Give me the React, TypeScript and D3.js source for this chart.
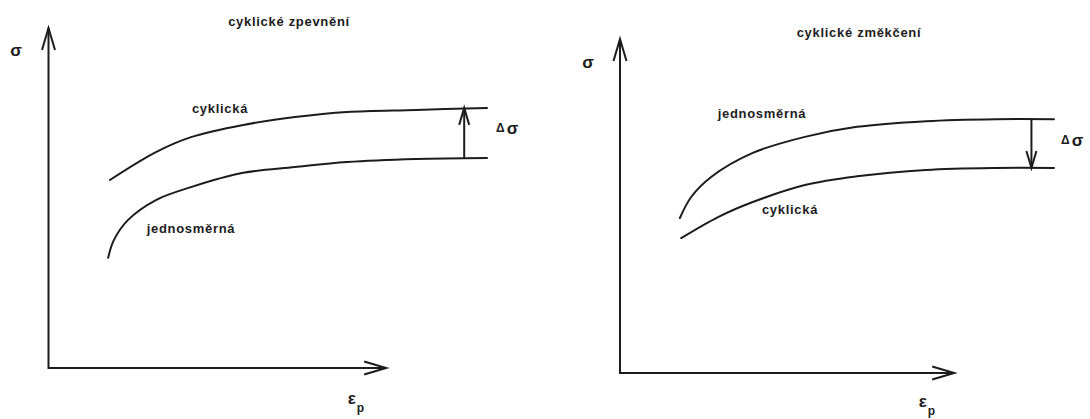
import React from 'react';
import * as d3 from 'd3';

const WIDTH = 1090;
const HEIGHT = 419;

// Relative units: strain ε_p on x (0–100), stress σ on y (0–100)
const hardeningCyclicX = [14.0, 24.5, 32.5, 44.4, 56.2, 68.1, 83.8, 100];
const hardeningCyclicY = [55.3, 63.5, 67.9, 71.5, 73.8, 75.3, 75.9, 76.5];
const hardeningMonoX = [13.6, 14.9, 18.1, 24.5, 32.5, 44.4, 56.2, 68.1, 83.8, 100];
const hardeningMonoY = [32.4, 37.6, 43.5, 49.4, 53.2, 57.4, 59.1, 60.6, 61.5, 61.8];

const softeningMonoX = [13.8, 16.4, 21.0, 30.6, 42.6, 54.6, 70.5, 86.6, 100];
const softeningMonoY = [46.4, 52.7, 58.7, 65.9, 70.7, 73.7, 75.4, 76.0, 76.0];
const softeningCyclicX = [14.1, 22.6, 30.6, 42.6, 54.6, 70.5, 86.6, 100];
const softeningCyclicY = [40.4, 46.7, 51.2, 56.3, 58.9, 60.8, 61.4, 61.4];

const panelTitles = ['cyklické zpevnění', 'cyklické změkčení'];
const curveNames = ['cyklická', 'jednosměrná'];
const AXIS_X_END = 77; // end of the ε_p axis in data units
const DELTA_X = 94.8; // strain where Δσ is marked

const zip = (xs: number[], ys: number[]) => xs.map((x, i) => [x, ys[i]] as [number, number]);

const INK = '#1c1c1c';
const FONT = '"Liberation Sans", Arial, Helvetica, sans-serif';

type Panel = {
  title: string;
  xRange: [number, number];
  yRange: [number, number];
  upper: [number, number][];
  lower: [number, number][];
  upperLabel: string;
  lowerLabel: string;
  arrowUp: boolean;
  titlePos: [number, number];
  sigmaPos: [number, number];
  epsPos: [number, number];
  upperLabelPos: [number, number];
  lowerLabelPos: [number, number];
  deltaPos: [number, number];
};

const panels: Panel[] = [
  {
    title: panelTitles[0],
    xRange: [48.5, 487],
    yRange: [368, 28],
    upper: zip(hardeningCyclicX, hardeningCyclicY),
    lower: zip(hardeningMonoX, hardeningMonoY),
    upperLabel: curveNames[0],
    lowerLabel: curveNames[1],
    arrowUp: true,
    titlePos: [289, 21],
    sigmaPos: [16, 50],
    epsPos: [356, 398],
    upperLabelPos: [220, 108],
    lowerLabelPos: [191, 228],
    deltaPos: [496, 128],
  },
  {
    title: panelTitles[1],
    xRange: [620, 1054],
    yRange: [373, 39],
    upper: zip(softeningMonoX, softeningMonoY),
    lower: zip(softeningCyclicX, softeningCyclicY),
    upperLabel: curveNames[1],
    lowerLabel: curveNames[0],
    arrowUp: false,
    titlePos: [859, 32],
    sigmaPos: [588, 62],
    epsPos: [927, 401],
    upperLabelPos: [762, 113],
    lowerLabelPos: [790, 209],
    deltaPos: [1061, 140],
  },
];

const labelStyle = {
  fontFamily: FONT,
  fontWeight: 700,
  fontSize: 13,
  letterSpacing: 0.7,
  fill: INK,
} as const;

function OpenHead({ x, y, dir, len, half }: { x: number; y: number; dir: 'up' | 'down' | 'right'; len: number; half: number }) {
  let d = '';
  if (dir === 'up') d = `M${x - half},${y + len}L${x},${y}L${x + half},${y + len}`;
  if (dir === 'down') d = `M${x - half},${y - len}L${x},${y}L${x + half},${y - len}`;
  if (dir === 'right') d = `M${x - len},${y - half}L${x},${y}L${x - len},${y + half}`;
  return <path d={d} fill="none" stroke={INK} strokeWidth={2} strokeLinejoin="miter" />;
}

function PanelView({ p }: { p: Panel }) {
  const x = d3.scaleLinear().domain([0, 100]).range(p.xRange);
  const y = d3.scaleLinear().domain([0, 100]).range(p.yRange);
  const line = d3
    .line<[number, number]>()
    .x((d) => x(d[0]))
    .y((d) => y(d[1]))
    .curve(d3.curveCatmullRom.alpha(0.5));

  const upperEnd = p.upper[p.upper.length - 1][1];
  const lowerEnd = p.lower[p.lower.length - 1][1];
  const ax = x(DELTA_X);
  const yUp = y(upperEnd);
  const yLo = y(lowerEnd);

  return (
    <g>
      {/* axes */}
      <path
        d={`M${x(0)},${y(100)}L${x(0)},${y(0)}L${x(AXIS_X_END)},${y(0)}`}
        fill="none"
        stroke={INK}
        strokeWidth={2}
      />
      <OpenHead x={x(0)} y={y(100)} dir="up" len={22} half={6.5} />
      <OpenHead x={x(AXIS_X_END)} y={y(0)} dir="right" len={22} half={6.5} />

      {/* curves */}
      <path d={line(p.upper) ?? ''} fill="none" stroke={INK} strokeWidth={2} strokeLinecap="round" />
      <path d={line(p.lower) ?? ''} fill="none" stroke={INK} strokeWidth={2} strokeLinecap="round" />

      {/* Δσ marker */}
      <line x1={ax} x2={ax} y1={yUp} y2={yLo} stroke={INK} strokeWidth={2} />
      {p.arrowUp ? (
        <OpenHead x={ax} y={yUp} dir="up" len={17} half={5} />
      ) : (
        <OpenHead x={ax} y={yLo} dir="down" len={17} half={5} />
      )}

      {/* texts */}
      <text x={p.titlePos[0]} y={p.titlePos[1]} textAnchor="middle" dominantBaseline="central" style={labelStyle}>
        {p.title}
      </text>
      <text x={p.upperLabelPos[0]} y={p.upperLabelPos[1]} textAnchor="middle" dominantBaseline="central" style={labelStyle}>
        {p.upperLabel}
      </text>
      <text x={p.lowerLabelPos[0]} y={p.lowerLabelPos[1]} textAnchor="middle" dominantBaseline="central" style={labelStyle}>
        {p.lowerLabel}
      </text>
      <text
        x={p.sigmaPos[0]}
        y={p.sigmaPos[1]}
        textAnchor="middle"
        dominantBaseline="central"
        style={{ fontFamily: FONT, fontWeight: 700, fontSize: 17, fill: INK }}
      >
        σ
      </text>
      <text x={p.deltaPos[0]} y={p.deltaPos[1]} dominantBaseline="central" style={{ fontFamily: FONT, fontWeight: 700, fill: INK }}>
        <tspan fontSize={12}>Δ</tspan>
        <tspan fontSize={17} dx={2}>σ</tspan>
      </text>
      <text
        x={p.epsPos[0]}
        y={p.epsPos[1]}
        textAnchor="middle"
        dominantBaseline="central"
        style={{ fontFamily: FONT, fontWeight: 700, fontSize: 17, fill: INK }}
      >
        ε
        <tspan fontSize={12} dx={1} dy={10}>
          p
        </tspan>
      </text>
    </g>
  );
}

export default function App() {
  return (
    <svg
      width={WIDTH}
      height={HEIGHT}
      viewBox={`0 0 ${WIDTH} ${HEIGHT}`}
      style={{ position: 'absolute', left: 0, top: 0, background: '#fff' }}
    >
      <rect width={WIDTH} height={HEIGHT} fill="#fff" />
      {panels.map((p) => (
        <PanelView key={p.title} p={p} />
      ))}
    </svg>
  );
}
